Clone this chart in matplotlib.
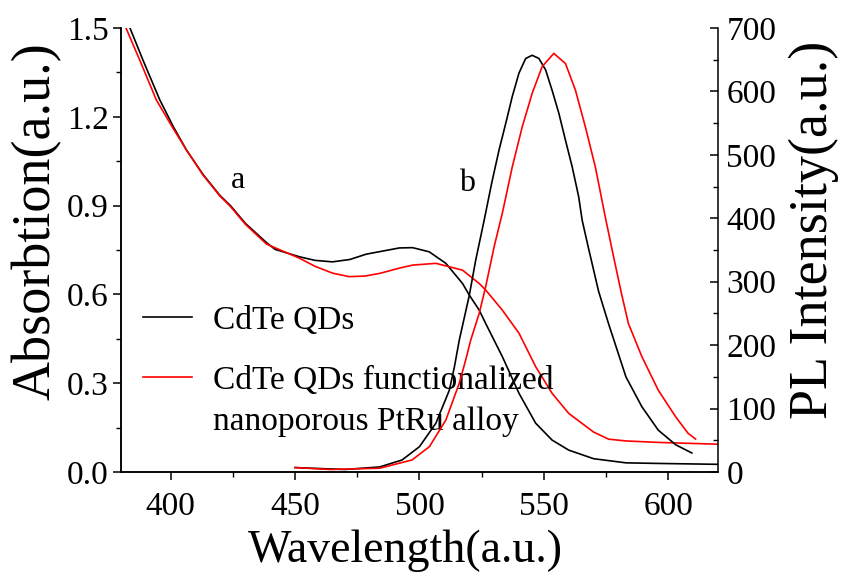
import numpy as np
import matplotlib
matplotlib.use("Agg")
from matplotlib import pyplot as plt
from matplotlib.ticker import MultipleLocator

plt.rcParams['font.family'] = ['Liberation Serif', 'DejaVu Serif']

# absorption spectra (left axis)
abs_wl_qd = [383.6, 388.9, 395.6, 401, 406.3, 413, 419.7, 424, 430, 438.5, 442, 451.8, 458,
             465, 472, 478.6, 491.9, 497.2, 503.9, 510.6, 517.3, 520, 524, 526.6, 533.3,
             540, 546.7, 553.3, 560, 570, 583, 596, 620]
abs_qd = [1.50, 1.39, 1.257, 1.167, 1.088, 1.005, 0.935, 0.90, 0.84, 0.775, 0.752, 0.727, 0.715,
          0.71, 0.718, 0.736, 0.757, 0.758, 0.744, 0.705, 0.637, 0.598, 0.547, 0.502, 0.39,
          0.266, 0.165, 0.108, 0.074, 0.045, 0.031, 0.029, 0.026]

abs_wl_pt = [382, 387.6, 394.2, 400.5, 406.3, 413, 419.7, 424, 430, 438.5, 451.8, 458, 465,
             471.7, 478, 484, 492, 497.2, 506.6, 517.3, 524, 526.6, 533.3, 540, 546.7, 553.3,
             560, 570, 576, 583, 596, 620]
abs_pt = [1.50, 1.39, 1.257, 1.167, 1.088, 1.003, 0.933, 0.897, 0.837, 0.77, 0.722, 0.695, 0.672,
          0.66, 0.662, 0.671, 0.689, 0.699, 0.705, 0.682, 0.637, 0.615, 0.547, 0.469, 0.356, 0.266,
          0.198, 0.135, 0.111, 0.105, 0.100, 0.094]

# PL spectra (right axis)
pl_wl_qd = [450, 463, 470, 484, 493, 500, 506.6, 512, 514, 516, 520, 522.6, 526, 529, 532,
            534.7, 537.3, 540, 542.7, 545.3, 548, 550.7, 553.3, 556, 558.7, 561.4, 564, 565.4,
            568, 572, 576, 583, 589.4, 596, 603, 609.5]
pl_qd = [7, 5, 4, 8, 19, 40, 77, 129, 165, 208, 278, 334, 397, 455, 508,
         550, 592, 629, 652, 657, 652, 634, 602, 566, 523, 481, 434, 397,
         352, 285, 234, 150, 103, 66, 43, 30]

pl_wl_pt = [450, 464, 484, 497, 504, 510.6, 516, 518.6, 520.6, 524, 526.6, 530, 533.3,
            537.3, 541.3, 545.3, 549.3, 554, 558.7, 562.7, 566.7, 570.7, 574.7, 578, 581,
            584, 589.4, 596, 603, 608, 611]
pl_pt = [7, 4, 6, 19, 40, 82, 140, 177, 208, 250, 292, 355, 408,
         481, 544, 597, 639, 660, 644, 602, 544, 481, 402, 340, 285,
         234, 182, 129, 87, 61, 52]

fig = plt.figure(figsize=(8.41, 5.86), dpi=100)
ax = fig.add_axes([0.1439, 0.1945, 0.7098, 0.7577])
ax2 = ax.twinx()

l1, = ax.plot(abs_wl_qd, abs_qd, color='black', lw=1.2)
l2, = ax.plot(abs_wl_pt, abs_pt, color='red', lw=1.2)
ax2.plot(pl_wl_qd, pl_qd, color='black', lw=1.2)
ax2.plot(pl_wl_pt, pl_pt, color='red', lw=1.2)

ax.set_xlim(380, 620)
ax.set_ylim(0, 1.5)
ax2.set_ylim(0, 700)

ax.xaxis.set_major_locator(MultipleLocator(50))
ax.xaxis.set_minor_locator(MultipleLocator(25))
ax.yaxis.set_major_locator(MultipleLocator(0.3))
ax.yaxis.set_minor_locator(MultipleLocator(0.15))
ax2.yaxis.set_major_locator(MultipleLocator(100))
ax2.yaxis.set_minor_locator(MultipleLocator(50))

for a in (ax, ax2):
    a.spines['top'].set_visible(False)
    for s in a.spines.values():
        s.set_linewidth(1.1)
ax.spines['right'].set_visible(False)

ax.tick_params(which='major', direction='out', length=6, width=1.1, labelsize=24, pad=3)
ax.tick_params(which='minor', direction='out', length=3.5, width=1.0)
ax.tick_params(axis='x', which='major', pad=8)
ax2.tick_params(which='major', direction='in', length=6, width=1.1, labelsize=24, pad=6)
ax2.tick_params(which='minor', direction='in', length=3.5, width=1.0)

ax.set_xlabel('Wavelength(a.u.)', fontsize=33)
ax.xaxis.set_label_coords(0.477, -0.13)
ax.set_ylabel('Absorbtion(a.u.)', fontsize=39)
ax.yaxis.set_label_coords(-0.10, 0.565)
ax2.set_ylabel('PL Intensity(a.u.)', fontsize=39)
ax2.yaxis.set_label_coords(1.118, 0.545)

ax.text(426.9, 0.986, 'a', fontsize=23, ha='center', va='center')
ax.text(519.1, 0.976, 'b', fontsize=23, ha='center', va='center')

ax.legend([l1, l2], ['CdTe QDs', 'CdTe QDs functionalized'],
          loc='upper left', bbox_to_anchor=(0.037, 0.376), frameon=False, fontsize=24,
          borderpad=0, borderaxespad=0, handlelength=1.47, handletextpad=0.63,
          labelspacing=0.9)
ax.text(0.154, 0.113, 'nanoporous PtRu alloy', transform=ax.transAxes, fontsize=24,
        ha='left', va='center')

fig.savefig('out.png', dpi=100)
